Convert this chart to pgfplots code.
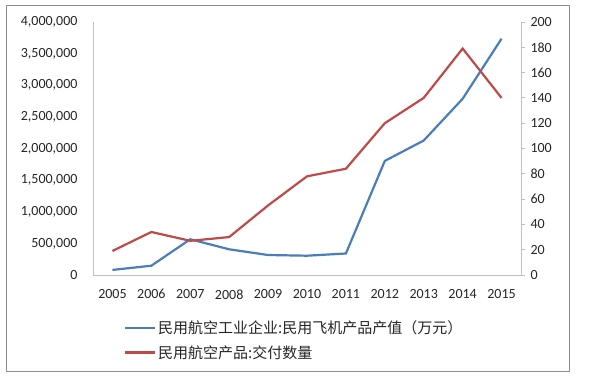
\documentclass[border=0pt]{standalone}
\usepackage{pgfplots}
\pgfplotsset{compat=1.18}
\usepackage{fontspec}
\setmainfont{Carlito}
\newfontfamily\cjk{Noto Sans CJK SC}
\definecolor{sblue}{HTML}{4A7EBB}
\definecolor{sred}{HTML}{BE4B48}
\definecolor{axgray}{HTML}{BFBFBF}
\definecolor{bordergray}{HTML}{8C8C8C}
\definecolor{txt}{HTML}{262626}
\begin{document}
\begin{tikzpicture}
\path[fill=white] (-93pt,-104pt) rectangle (507pt,275pt);
\draw[bordergray, line width=1pt] (-86pt,-97pt) rectangle (476pt,269pt);
\begin{axis}[
  at={(0,0)}, anchor=south west,
  scale only axis, width=428pt, height=253pt,
  xmin=2004.5, xmax=2015.5, ymin=0, ymax=4000000,
  axis x line*=bottom, axis y line*=left,
  axis line style={axgray, line width=0.8pt},
  xtick={2005,...,2015}, ytick={0,500000,...,4000000},
  major tick length=0pt,
  scaled y ticks=false,
  /pgf/number format/assume math mode=true,
  xticklabel style={/pgf/number format/1000 sep={}, yshift=-11pt},
  yticklabel style={/pgf/number format/fixed, /pgf/number format/1000 sep={,}, xshift=-12pt},
  tick label style={font=\fontsize{14}{16}\selectfont, text=txt},
  legend style={at={(0.065,-0.165)}, anchor=north west, draw=none, fill=none,
    font=\cjk\fontsize{15}{17}\selectfont, text=txt, row sep=6pt},
  legend cell align=left,
  legend image code/.code={\draw[#1] (0pt,0pt) -- (30pt,0pt);},
]
\addplot[sblue, line width=2.2pt] coordinates {
 (2005,80000) (2006,147000) (2007,565000) (2008,406000) (2009,316000)
 (2010,305000) (2011,340000) (2012,1804000) (2013,2126000) (2014,2786000) (2015,3736000)};
\addlegendentry{民用航空工业企业:民用飞机产品产值（万元）}
\addlegendimage{sred, line width=2.2pt}
\addlegendentry{民用航空产品:交付数量}
\end{axis}
\begin{axis}[
  at={(0,0)}, anchor=south west,
  scale only axis, width=428pt, height=253pt,
  xmin=2004.5, xmax=2015.5, ymin=0, ymax=200,
  axis x line=none, axis y line*=right,
  axis line style={axgray, line width=0.8pt},
  ytick={0,20,...,200},
  tick align=outside, major tick length=4pt,
  tick style={axgray, line width=0.8pt},
  /pgf/number format/assume math mode=true,
  yticklabel style={xshift=2pt},
  tick label style={font=\fontsize{14}{16}\selectfont, text=txt},
]
\addplot[sred, line width=2.2pt] coordinates {
 (2005,19) (2006,34) (2007,27) (2008,30) (2009,55) (2010,78)
 (2011,84) (2012,120) (2013,140) (2014,179) (2015,140)};
\end{axis}
\end{tikzpicture}
\end{document}
